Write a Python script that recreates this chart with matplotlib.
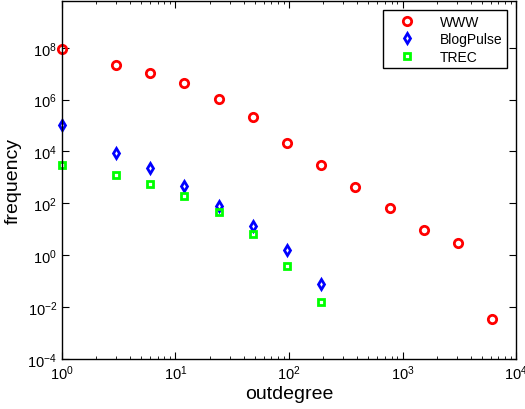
import numpy as np
from matplotlib import pyplot as plt
from matplotlib.ticker import NullLocator

plt.rcParams['font.family'] = ['Liberation Sans', 'DejaVu Sans']
plt.rcParams['mathtext.fontset'] = 'custom'
plt.rcParams['mathtext.rm'] = 'Liberation Sans'

# outdegree bins
www_x = [1, 3, 6, 12, 24, 48, 96, 192, 384, 768, 1536, 3072, 6144]
blog_x = [1, 3, 6, 12, 24, 48, 96, 192]
trec_x = [1, 3, 6, 12, 24, 48, 96, 192]

# log10 of frequency
www_log = [7.97, 7.34, 7.03, 6.65, 6.03, 5.32, 4.32, 3.46, 2.62, 1.82, 0.97, 0.48, -2.46]
blog_log = [5.03, 3.96, 3.36, 2.66, 1.91, 1.12, 0.19, -1.09]
trec_log = [3.49, 3.11, 2.75, 2.30, 1.66, 0.82, -0.41, -1.82]

fig = plt.figure(figsize=(5.25, 4.1), dpi=100)
ax = fig.add_axes([0.118, 0.122, 0.865, 0.873])

ax.plot(www_x, 10 ** np.array(www_log), 'o', mfc='none', mec='#ff0000',
        mew=2, ms=6, label='WWW', clip_on=False)
ax.plot(blog_x, 10 ** np.array(blog_log), 'd', mfc='none', mec='#0000ff',
        mew=2, ms=5.5, label='BlogPulse', clip_on=False)
ax.plot(trec_x, 10 ** np.array(trec_log), 's', mfc='none', mec='#00ff00',
        mew=2, ms=4.5, label='TREC', clip_on=False)

ax.set_xscale('log')
ax.set_yscale('log')
ax.set_xlim(1, 1e4)
ax.set_ylim(1e-4, 10 ** 9.8)
ax.set_yticks([1e-4, 1e-2, 1e0, 1e2, 1e4, 1e6, 1e8])
ax.yaxis.set_minor_locator(NullLocator())
ax.tick_params(which='both', direction='in', top=True, right=True,
               labelsize=10.5)
ax.tick_params(which='major', length=5)
ax.tick_params(which='minor', length=2.5)
for s in ax.spines.values():
    s.set_linewidth(1)

ax.set_xlabel('outdegree', fontsize=14, labelpad=2)
ax.set_ylabel('frequency', fontsize=14, labelpad=4)

leg = ax.legend(loc='upper right', fontsize=10, fancybox=False,
                edgecolor='black', framealpha=1, borderpad=0.3,
                handletextpad=1.0, handlelength=2.8, labelspacing=0.25,
                bbox_to_anchor=(0.995, 0.993))
leg.get_frame().set_linewidth(1)

fig.savefig('out.png', dpi=100)
